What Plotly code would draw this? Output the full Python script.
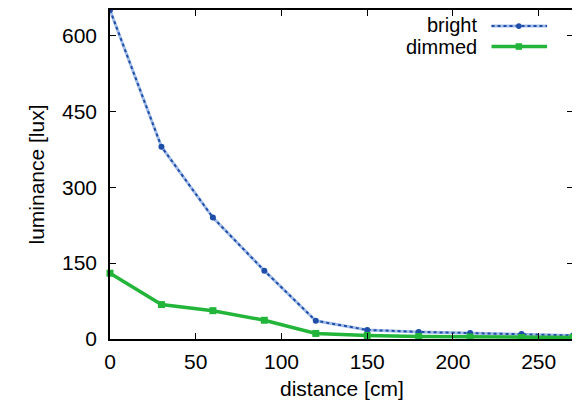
import plotly.graph_objects as go

distance = [0, 30, 60, 90, 120, 150, 180, 210, 240, 270]
bright = [650, 380, 240, 135, 36, 18, 14, 12, 10, 7]
dimmed = [130, 68, 56, 37, 11, 7, 5, 4, 3, 3]
series_names = ["bright", "dimmed"]
x_ticks = [0, 50, 100, 150, 200, 250]
y_ticks = [0, 150, 300, 450, 600]

BLUE_D = "#1f4ea8"
BLUE_L = "#a3bde8"
GREEN = "#22b53a"
FONT = "Liberation Sans, Arial, sans-serif"
FS = 21

fig = go.Figure()
fig.add_trace(go.Scatter(x=distance, y=bright, mode="lines",
                         line=dict(color=BLUE_L, width=3),
                         showlegend=False, hoverinfo="skip", cliponaxis=True))
fig.add_trace(go.Scatter(x=distance, y=bright, mode="lines+markers", name=series_names[0],
                         line=dict(color=BLUE_D, width=2, dash="dot"),
                         marker=dict(color=BLUE_D, size=6, symbol="circle"),
                         showlegend=False, cliponaxis=True))
fig.add_trace(go.Scatter(x=distance, y=dimmed, mode="lines+markers", name=series_names[1],
                         line=dict(color=GREEN, width=3.5),
                         marker=dict(color=GREEN, size=7, symbol="square"),
                         showlegend=False, cliponaxis=False))

# custom gnuplot-style legend (text left, sample right)
leg_rows = [(0.953, series_names[0]), (0.887, series_names[1])]
for yy, name in leg_rows:
    fig.add_annotation(x=0.797, y=yy, xref="paper", yref="paper", text=name,
                       showarrow=False, xanchor="right", yanchor="middle",
                       font=dict(size=20, color="black", family=FONT))
# bright sample
fig.add_shape(type="line", xref="paper", yref="paper", x0=0.824, x1=0.944, y0=0.951, y1=0.951,
              line=dict(color=BLUE_L, width=3))
fig.add_shape(type="line", xref="paper", yref="paper", x0=0.824, x1=0.944, y0=0.951, y1=0.951,
              line=dict(color=BLUE_D, width=2, dash="dot"))
fig.add_shape(type="circle", xref="paper", yref="paper", x0=0.877, x1=0.889, y0=0.942, y1=0.960,
              fillcolor=BLUE_D, line=dict(color=BLUE_D, width=0))
# dimmed sample
fig.add_shape(type="line", xref="paper", yref="paper", x0=0.824, x1=0.944, y0=0.889, y1=0.889,
              line=dict(color=GREEN, width=3.5))
fig.add_shape(type="rect", xref="paper", yref="paper", x0=0.876, x1=0.890, y0=0.879, y1=0.899,
              fillcolor=GREEN, line=dict(color=GREEN, width=0))

# x-axis title
fig.add_annotation(x=0.5, y=-0.150, xref="paper", yref="paper", text="distance [cm]",
                   showarrow=False, xanchor="center", yanchor="middle",
                   font=dict(size=FS, color="black", family=FONT))

axis_common = dict(showgrid=False, zeroline=False, showline=True, linecolor="black", linewidth=1.5,
                   mirror="allticks", ticks="inside", ticklen=6, tickcolor="black",
                   automargin=False,
                   tickfont=dict(size=FS, color="black", family=FONT))
fig.update_xaxes(range=[0, 270], tickvals=x_ticks, ticklabelstandoff=3, **axis_common)
fig.update_yaxes(range=[0, 650], tickvals=y_ticks, ticklabelstandoff=7,
                 title=dict(text="luminance [lux]", standoff=12,
                            font=dict(size=FS, color="black", family=FONT)), **axis_common)

fig.update_layout(width=572, height=397, paper_bgcolor="white", plot_bgcolor="white",
                  margin=dict(l=102, r=7, t=2, b=66), showlegend=False,
                  font=dict(family=FONT))
fig.write_html("out.html")
